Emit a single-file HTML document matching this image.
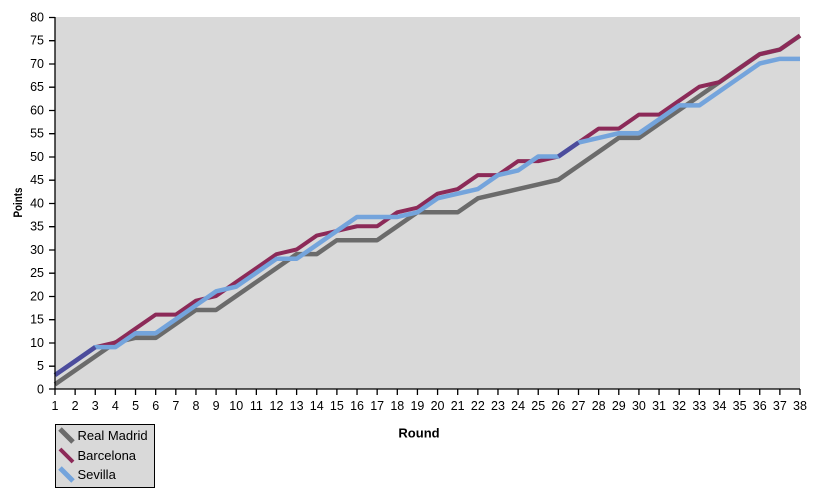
<!DOCTYPE html>
<html><head><meta charset="utf-8"><style>
html,body{margin:0;padding:0;background:#fff;}
svg{display:block;font-family:"Liberation Sans",Arial,sans-serif;}
</style></head><body>
<svg width="816" height="495" viewBox="0 0 816 495" xmlns="http://www.w3.org/2000/svg">
<rect x="55" y="17" width="745" height="372" fill="#d9d9d9"/>
<g fill="none" stroke-linejoin="round" stroke-linecap="butt" transform="translate(55,389) scale(20.135,-4.65)">
<polyline vector-effect="non-scaling-stroke" stroke="#6b6b6b" stroke-width="4.5" points="0,1 1,4 2,7 3,10 4,11 5,11 6,14 7,17 8,17 9,20 10,23 11,26 12,29 13,29 14,32 15,32 16,32 17,35 18,38 19,38 20,38 21,41 22,42 23,43 24,44 25,45 26,48 27,51 28,54 29,54 30,57 31,60 32,63 33,66 34,69 35,72 36,73 37,76"/>
<polyline vector-effect="non-scaling-stroke" stroke="#8c2a58" stroke-width="4" points="0,3 1,6 2,9 3,10 4,13 5,16 6,16 7,19 8,20 9,23 10,26 11,29 12,30 13,33 14,34 15,35 16,35 17,38 18,39 19,42 20,43 21,46 22,46 23,49 24,49 25,50 26,53 27,56 28,56 29,59 30,59 31,62 32,65 33,66 34,69 35,72 36,73 37,76"/>
<polyline vector-effect="non-scaling-stroke" stroke="#74a4dc" stroke-width="4.5" points="0,3 1,6 2,9 3,9 4,12 5,12 6,15 7,18 8,21 9,22 10,25 11,28 12,28 13,31 14,34 15,37 16,37 17,37 18,38 19,41 20,42 21,43 22,46 23,47 24,50 25,50 26,53 27,54 28,55 29,55 30,58 31,61 32,61 33,64 34,67 35,70 36,71 37,71"/>
<polyline vector-effect="non-scaling-stroke" stroke="#4c4c9c" stroke-width="4.5" points="0,3 1,6 2,9"/>
<polyline vector-effect="non-scaling-stroke" stroke="#4c4c9c" stroke-width="4.5" points="25,50 26,53"/>
</g>
<g stroke="#000" stroke-width="1.3" fill="none">
<line x1="55" y1="17" x2="55" y2="389.5"/>
<line x1="54.5" y1="389" x2="800" y2="389"/>
<path d="M49 17.5H55M49 40.7H55M49 64H55M49 87.2H55M49 110.5H55M49 133.7H55M49 157H55M49 180.2H55M49 203.5H55M49 226.7H55M49 250H55M49 273.2H55M49 296.5H55M49 319.7H55M49 343H55M49 366.2H55M49 389H55"/>
<path d="M55 389V395M75.14 389V395M95.27 389V395M115.41 389V395M135.54 389V395M155.68 389V395M175.81 389V395M195.95 389V395M216.08 389V395M236.22 389V395M256.35 389V395M276.49 389V395M296.62 389V395M316.76 389V395M336.89 389V395M357.03 389V395M377.16 389V395M397.3 389V395M417.43 389V395M437.57 389V395M457.7 389V395M477.84 389V395M497.97 389V395M518.11 389V395M538.24 389V395M558.38 389V395M578.51 389V395M598.65 389V395M618.78 389V395M638.92 389V395M659.05 389V395M679.19 389V395M699.32 389V395M719.46 389V395M739.59 389V395M759.73 389V395M779.86 389V395M800 389V395"/>
</g>
<g font-size="12.5" fill="#000" text-anchor="end">
<text x="44" y="21.5">80</text><text x="44" y="44.7">75</text><text x="44" y="68">70</text><text x="44" y="91.2">65</text><text x="44" y="114.5">60</text><text x="44" y="137.7">55</text><text x="44" y="161">50</text><text x="44" y="184.2">45</text><text x="44" y="207.5">40</text><text x="44" y="230.7">35</text><text x="44" y="254">30</text><text x="44" y="277.2">25</text><text x="44" y="300.5">20</text><text x="44" y="323.7">15</text><text x="44" y="347">10</text><text x="44" y="370.2">5</text><text x="44" y="393.5">0</text>
</g>
<g font-size="12.5" fill="#000" text-anchor="middle">
<text x="55" y="410">1</text><text x="75.14" y="410">2</text><text x="95.27" y="410">3</text><text x="115.41" y="410">4</text><text x="135.54" y="410">5</text><text x="155.68" y="410">6</text><text x="175.81" y="410">7</text><text x="195.95" y="410">8</text><text x="216.08" y="410">9</text><text x="236.22" y="410">10</text><text x="256.35" y="410">11</text><text x="276.49" y="410">12</text><text x="296.62" y="410">13</text><text x="316.76" y="410">14</text><text x="336.89" y="410">15</text><text x="357.03" y="410">16</text><text x="377.16" y="410">17</text><text x="397.3" y="410">18</text><text x="417.43" y="410">19</text><text x="437.57" y="410">20</text><text x="457.7" y="410">21</text><text x="477.84" y="410">22</text><text x="497.97" y="410">23</text><text x="518.11" y="410">24</text><text x="538.24" y="410">25</text><text x="558.38" y="410">26</text><text x="578.51" y="410">27</text><text x="598.65" y="410">28</text><text x="618.78" y="410">29</text><text x="638.92" y="410">30</text><text x="659.05" y="410">31</text><text x="679.19" y="410">32</text><text x="699.32" y="410">33</text><text x="719.46" y="410">34</text><text x="739.59" y="410">35</text><text x="759.73" y="410">36</text><text x="779.86" y="410">37</text><text x="800" y="410">38</text>
</g>
<text x="419" y="437.5" font-size="13" font-weight="bold" text-anchor="middle">Round</text>
<text x="-217.5" y="22" transform="rotate(-90)" font-size="11.5" font-weight="bold" textLength="30" lengthAdjust="spacingAndGlyphs">Points</text>
<rect x="55.5" y="424.5" width="99" height="63" fill="#d9d9d9" stroke="#000" stroke-width="1"/>
<g stroke-width="5" stroke-linecap="butt">
<line x1="60" y1="429" x2="73" y2="442" stroke="#6b6b6b"/>
<line x1="60" y1="449" x2="73" y2="462" stroke="#8c2a58" stroke-width="4"/>
<line x1="60" y1="468" x2="73" y2="481" stroke="#74a4dc"/>
</g>
<g font-size="13" fill="#000">
<text x="77.5" y="440">Real Madrid</text>
<text x="77.5" y="460">Barcelona</text>
<text x="77.5" y="479">Sevilla</text>
</g>
</svg>
</body></html>
